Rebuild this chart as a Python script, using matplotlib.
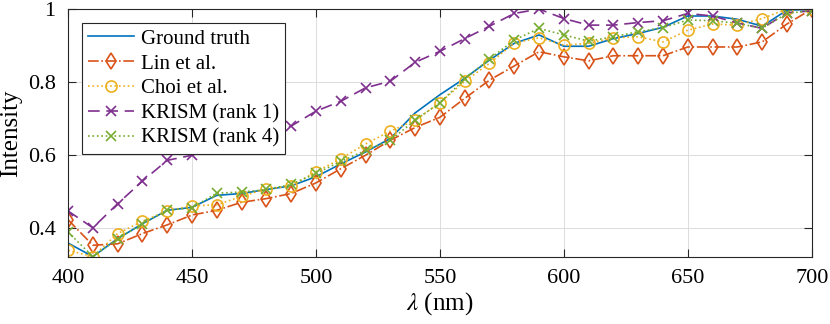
import matplotlib
matplotlib.use("Agg")
import matplotlib.pyplot as plt

plt.rcParams['font.family'] = ['Liberation Serif', 'DejaVu Serif']
plt.rcParams['mathtext.fontset'] = 'stix'

wavelength = list(range(400, 701, 10))

ground_truth = [0.358, 0.321, 0.370, 0.411, 0.448, 0.456, 0.489, 0.494, 0.505, 0.515, 0.540,
                0.575, 0.608, 0.645, 0.715, 0.765, 0.810, 0.860, 0.906, 0.929, 0.898,
                0.898, 0.919, 0.933, 0.950, 0.981, 0.981, 0.972, 0.953, 0.997, 0.999]
lin = [0.422, 0.352, 0.356, 0.384, 0.408, 0.435, 0.448, 0.470, 0.480, 0.494, 0.523,
       0.562, 0.599, 0.640, 0.675, 0.703, 0.755, 0.805, 0.844, 0.883, 0.869,
       0.858, 0.872, 0.872, 0.872, 0.896, 0.896, 0.896, 0.910, 0.959, 1.000]
choi = [0.338, 0.321, 0.384, 0.418, 0.446, 0.460, 0.463, 0.486, 0.507, 0.514, 0.554,
        0.589, 0.630, 0.665, 0.695, 0.743, 0.802, 0.851, 0.907, 0.921, 0.901,
        0.906, 0.921, 0.924, 0.910, 0.942, 0.959, 0.956, 0.974, 1.000, 0.999]
krism_r1 = [0.446, 0.400, 0.466, 0.528, 0.585, 0.599, 0.620, 0.640, 0.660, 0.679, 0.720,
            0.747, 0.784, 0.802, 0.854, 0.884, 0.919, 0.953, 0.988, 1.000, 0.974,
            0.956, 0.956, 0.963, 0.968, 0.988, 0.981, 0.962, 0.947, 0.990, 0.995]
krism_r4 = [0.388, 0.321, 0.370, 0.411, 0.448, 0.455, 0.495, 0.498, 0.505, 0.519, 0.549,
            0.582, 0.612, 0.640, 0.695, 0.743, 0.808, 0.863, 0.915, 0.947, 0.929,
            0.912, 0.924, 0.938, 0.949, 0.970, 0.968, 0.961, 0.947, 0.988, 0.996]

fig = plt.figure(figsize=(8.3, 3.24), dpi=100)
ax = fig.add_axes([0.082, 0.207, 0.896, 0.765])

lw = 1.2
ax.plot(wavelength, ground_truth, '-', color='#0072BD', lw=lw, label='Ground truth')
ax.plot(wavelength, lin, '-.', color='#D95319', lw=lw, marker='d', ms=8, mfc='none',
        mew=1.2, label='Lin et al.')
ax.plot(wavelength, choi, ':', color='#EDB120', lw=lw, marker='o', ms=8, mfc='none',
        mew=1.2, label='Choi et al.')
ax.plot(wavelength, krism_r1, '--', color='#7E2F8E', lw=lw, marker='x', ms=7,
        mew=1.2, dashes=(7, 4), label='KRISM (rank 1)')
ax.plot(wavelength, krism_r4, ':', color='#77AC30', lw=lw, marker='x', ms=7,
        mew=1.2, label='KRISM (rank 4)')

ax.set_xlim(400, 700)
ax.set_ylim(0.32, 1.0)
ax.set_xticks(range(400, 701, 50))
ax.set_yticks([0.4, 0.6, 0.8, 1.0])
ax.set_yticklabels(['0.4', '0.6', '0.8', '1'])
ax.grid(True, color='#dcdcdc', lw=0.7)
ax.set_axisbelow(True)
ax.tick_params(direction='in', top=True, right=True, length=6, labelsize=16,
               color='#262626', pad=9)
for s in ax.spines.values():
    s.set_color('#262626')
    s.set_linewidth(0.8)

ax.set_xlabel(r'$\lambda$ (nm)', fontsize=18, labelpad=1)
ax.set_ylabel('Intensity', fontsize=18, labelpad=4)

leg = ax.legend(loc='upper left', bbox_to_anchor=(0.019, 0.944), borderaxespad=0,
                fontsize=15, frameon=True, fancybox=False, framealpha=1,
                edgecolor='#262626', handlelength=2.2, labelspacing=0.25,
                borderpad=0.3, handletextpad=0.3)
leg.get_frame().set_linewidth(0.8)

fig.savefig('out.png', dpi=100)
